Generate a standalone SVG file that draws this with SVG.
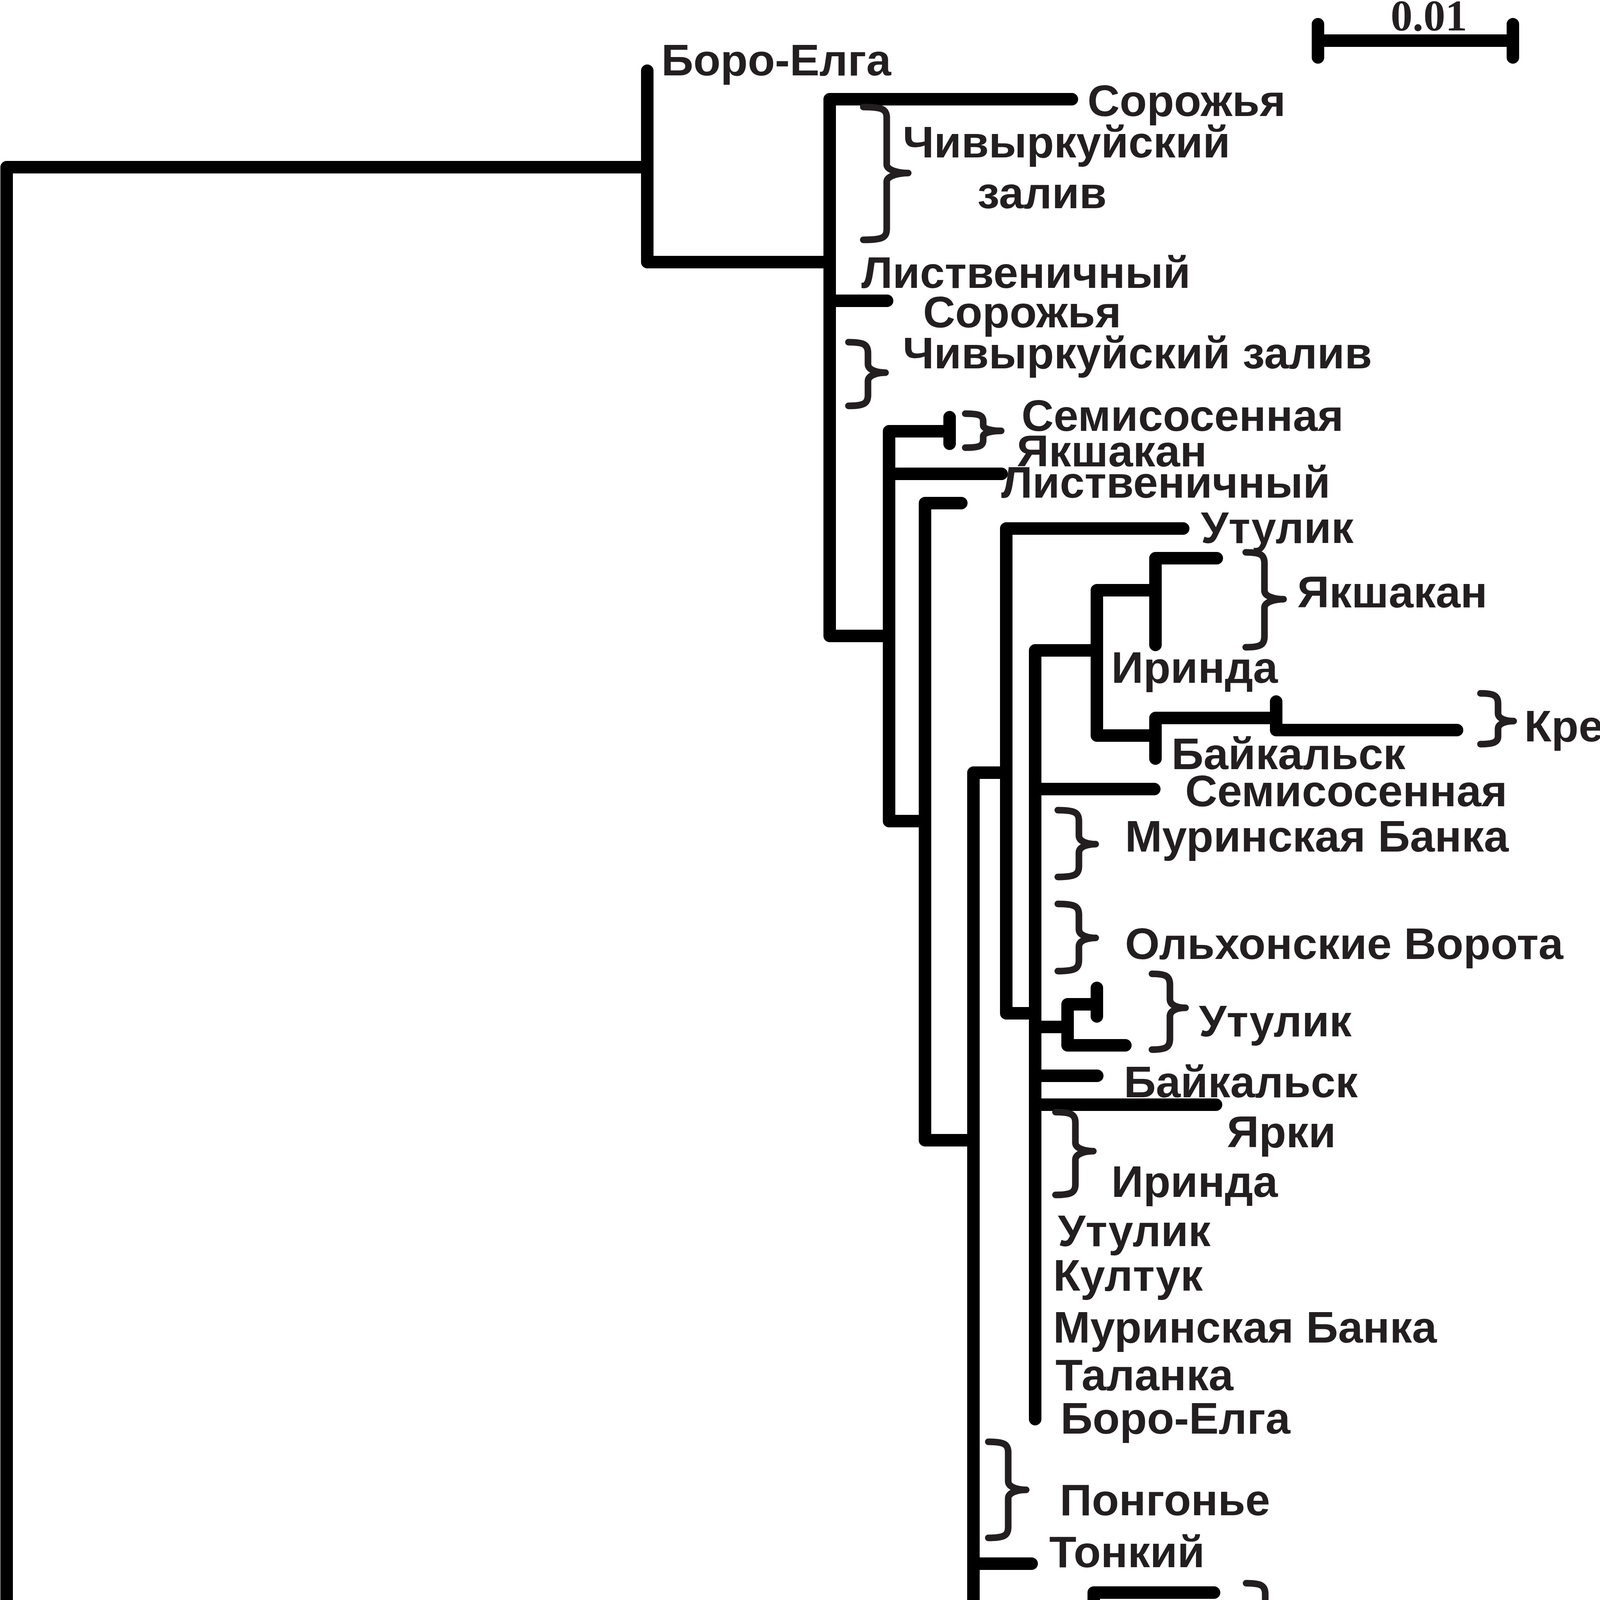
<svg xmlns="http://www.w3.org/2000/svg" width="4452" height="6139" viewBox="0 0 4452 6139">
<style>
.br{fill:none;stroke:#000;stroke-width:32;stroke-linecap:round;stroke-linejoin:round}
.bc{fill:none;stroke:#231f20;stroke-width:17;stroke-linecap:round;stroke-linejoin:round}
.t{font-family:"Liberation Sans",Arial,sans-serif;font-weight:bold;font-size:114px;fill:#231f20}
.g{font-family:"Liberation Sans",Arial,sans-serif;font-weight:bold;font-style:italic;font-size:205px;fill:#231f20;text-anchor:middle}
.s{font-family:"Liberation Serif","Times New Roman",serif;font-weight:bold;font-size:112px;fill:#231f20}
</style>
<rect x="0" y="0" width="4452" height="6139" fill="#fff"/>

<g id="connectors">
<path class="br" d="M1657 428 H17 V6002 H1825"/>
<path class="br" d="M1657 181 V671 H2124"/>
<path class="br" d="M2744 254 H2124 V1628 H2276 M2124 770 H2271"/>
<path class="br" d="M2431 1104 H2276 V2102 H2368 M2276 1213 H2564"/>
<path class="br" d="M2431 1068 V1136"/>
<path class="br" d="M2461 1288 H2368 V2919 H2492"/>
<path class="br" d="M2576 1978 H2492 V5836 M2492 4003 H2641 M2492 4128 H2800 M2492 4661 H2641 M2492 4736 H2641 M2492 4952 H2641 M2492 5470 H2799 M2492 5618 H2799"/>
<path class="br" d="M3029 1353 H2576 V2594 H2650"/>
<path class="br" d="M2808 1665 H2650 V3633 M2650 2020 H2955 M2650 2629 H2733 M2650 2754 H2809 M2650 2828 H3113"/>
<path class="br" d="M2958 1511 H2808 V1883 H2958"/>
<path class="br" d="M3115 1429 H2958 V1651"/>
<path class="br" d="M3267 1838 H2958 V1942"/>
<path class="br" d="M3267 1796 V1869 H3730"/>
<path class="br" d="M2808 2571 H2733 V2676 H2881 M2808 2529 V2602"/>
<path class="br" d="M3108 4077 H2800 V4220 H2949"/>
<path class="br" d="M1825 6052 V5945 H1967"/>
<path class="br" d="M2442 5911 H1967 V5986 H3557"/>
</g>

<g id="scale-bar">
<path class="br" d="M3374 62 V147 M3873 62 V147 M3374 104 H3873"/>
<text class="s" x="3560" y="78">0.01</text>
</g>

<g id="n-boro-elga-1"><text class="t" x="1693" y="193">Боро-Елга</text></g>
<g id="n-sorozhya-1"><text class="t" x="2784" y="297">Сорожья</text></g>
<g id="n-chivyrkuy-1">
<path class="bc" d="M2210 274 C2260 274 2270 280 2270 302 V421 C2270 437 2305 443 2325 443 C2305 443 2270 449 2270 465 V586 C2270 608 2260 614 2210 614"/>
<text class="t" x="2311" y="403">Чивыркуйский</text>
<text class="t" x="2502" y="533">залив</text>
</g>
<g id="n-listvenichny-1"><text class="t" x="2205" y="737">Лиственичный</text></g>
<g id="n-sorozhya-2"><text class="t" x="2363" y="838">Сорожья</text></g>
<g id="n-chivyrkuy-2">
<path class="bc" d="M2172 876 C2212 876 2222 882 2222 904 V932 C2222 948 2247 954 2267 954 C2247 954 2222 960 2222 976 V1011 C2222 1033 2212 1039 2172 1039"/>
<text class="t" x="2311" y="943">Чивыркуйский залив</text>
</g>
<g id="n-semisosennaya-1">
<path class="bc" d="M2471 1059 C2507 1059 2517 1063 2517 1079 V1089 C2517 1099 2543 1103 2563 1103 C2543 1103 2517 1107 2517 1117 V1126 C2517 1142 2507 1146 2471 1146"/>
<text class="t" x="2615" y="1103">Семисосенная</text>
</g>
<g id="n-yakshakan-1"><text class="t" x="2603" y="1194">Якшакан</text></g>
<g id="n-listvenichny-2"><text class="t" x="2563" y="1274">Лиственичный</text></g>
<g id="n-utulik-1"><text class="t" x="3074" y="1390">Утулик</text></g>
<g id="n-yakshakan-2">
<path class="bc" d="M3189 1414 C3227 1414 3237 1420 3237 1442 V1512 C3237 1528 3266 1534 3286 1534 C3266 1534 3237 1540 3237 1556 V1629 C3237 1651 3227 1657 3189 1657"/>
<text class="t" x="3321" y="1555">Якшакан</text>
</g>
<g id="n-irinda-1"><text class="t" x="2845" y="1748">Иринда</text></g>
<g id="n-krest">
<path class="bc" d="M3790 1775 C3825 1775 3835 1781 3835 1801 V1826 C3835 1840 3855 1846 3875 1846 C3855 1846 3835 1852 3835 1866 V1885 C3835 1899 3825 1905 3790 1905"/>
<text class="t" x="3902" y="1898">Крест</text>
</g>
<g id="n-baikalsk-1"><text class="t" x="2999" y="1969">Байкальск</text></g>
<g id="n-semisosennaya-2"><text class="t" x="3034" y="2064">Семисосенная</text></g>
<g id="n-murinskaya-1">
<path class="bc" d="M2708 2074 C2752 2074 2762 2080 2762 2102 V2139 C2762 2155 2785 2161 2805 2161 C2785 2161 2762 2167 2762 2183 V2217 C2762 2239 2752 2245 2708 2245"/>
<text class="t" x="2880" y="2180">Муринская Банка</text>
</g>
<g id="n-olkhon">
<path class="bc" d="M2708 2314 C2752 2314 2762 2320 2762 2342 V2379 C2762 2395 2785 2401 2805 2401 C2785 2401 2762 2407 2762 2423 V2458 C2762 2480 2752 2486 2708 2486"/>
<text class="t" x="2880" y="2455">Ольхонские Ворота</text>
</g>
<g id="n-utulik-2">
<path class="bc" d="M2949 2493 C2985 2493 2995 2499 2995 2521 V2558 C2995 2574 3015 2580 3035 2580 C3015 2580 2995 2586 2995 2602 V2659 C2995 2681 2985 2687 2949 2687"/>
<text class="t" x="3069" y="2653">Утулик</text>
</g>
<g id="n-baikalsk-2"><text class="t" x="2877" y="2809">Байкальск</text></g>
<g id="n-yarki"><text class="t" x="3141" y="2937">Ярки</text></g>
<g id="n-irinda-2">
<path class="bc" d="M2702 2847 C2743 2847 2753 2853 2753 2875 V2925 C2753 2941 2779 2947 2799 2947 C2779 2947 2753 2953 2753 2969 V3031 C2753 3053 2743 3059 2702 3059"/>
<text class="t" x="2845" y="3064">Иринда</text>
</g>
<g id="n-utulik-3"><text class="t" x="2708" y="3190">Утулик</text></g>
<g id="n-kultuk"><text class="t" x="2696" y="3304">Култук</text></g>
<g id="n-murinskaya-2"><text class="t" x="2696" y="3437">Муринская Банка</text></g>
<g id="n-talanka-1"><text class="t" x="2702" y="3559">Таланка</text></g>
<g id="n-boro-elga-2"><text class="t" x="2715" y="3670">Боро-Елга</text></g>
<g id="n-pongonye-1">
<path class="bc" d="M2530 3691 C2571 3691 2581 3697 2581 3719 V3792 C2581 3808 2607 3814 2627 3814 C2607 3814 2581 3820 2581 3836 V3909 C2581 3931 2571 3937 2530 3937"/>
<text class="t" x="2713" y="3879">Понгонье</text>
</g>
<g id="n-tonkiy-1"><text class="t" x="2686" y="4012">Тонкий</text></g>
<g id="n-talanka-2">
<path class="bc" d="M3190 4053 C3229 4053 3239 4059 3239 4081 V4141 C3239 4157 3268 4163 3288 4163 C3268 4163 3239 4169 3239 4185 V4240 C3239 4262 3229 4268 3190 4268"/>
<text class="t" x="3302" y="4222">Таланка</text>
</g>
<g id="n-listvenichny-3">
<path class="bc" d="M2530 4294 C2571 4294 2581 4300 2581 4322 V4377 C2581 4393 2607 4399 2627 4399 C2607 4399 2581 4405 2581 4421 V4481 C2581 4503 2571 4509 2530 4509"/>
<text class="t" x="2659" y="4423">Лиственичный</text>
</g>
<g id="n-pongonye-2"><text class="t" x="2593" y="4598">Понгонье</text></g>
<g id="n-talanka-3"><text class="t" x="2703" y="4701">Таланка</text></g>
<g id="n-tonkiy-2">
<path class="bc" d="M2652 4714 C2690 4714 2700 4720 2700 4742 V4797 C2700 4813 2729 4819 2749 4819 C2729 4819 2700 4825 2700 4841 V4896 C2700 4918 2690 4924 2652 4924"/>
<text class="t" x="2807" y="4853">Тонкий</text>
</g>
<g id="n-pongonye-3"><text class="t" x="2713" y="5020">Понгонье</text></g>
<g id="n-yakshakan-3">
<path class="bc" d="M2530 5013 C2571 5013 2581 5019 2581 5041 V5095 C2581 5111 2607 5117 2627 5117 C2607 5117 2581 5123 2581 5139 V5198 C2581 5220 2571 5226 2530 5226"/>
<text class="t" x="2657" y="5155">Якшакан</text>
</g>
<g id="n-pongonye-4">
<path class="bc" d="M2530 5254 C2571 5254 2581 5260 2581 5282 V5313 C2581 5329 2607 5335 2627 5335 C2607 5335 2581 5341 2581 5357 V5392 C2581 5414 2571 5420 2530 5420"/>
<text class="t" x="2652" y="5379">Понгонье</text>
</g>
<g id="n-tonkiy-3"><text class="t" x="2567" y="5573">Тонкий</text></g>
<g id="n-listvenichny-4"><text class="t" x="2839" y="5504">Лиственичный</text></g>
<g id="n-listvenichny-5"><text class="t" x="2839" y="5685">Лиственичный</text></g>
<g id="n-pongonye-5"><text class="t" x="2533" y="5799">Понгонье</text></g>
<g id="n-irinda-3"><text class="t" x="2548" y="5888">Иринда</text></g>
<g id="n-outgroup">
<path class="bc" d="M3611 5870 C3649 5870 3659 5876 3659 5898 V5972 C3659 5988 3688 5994 3708 5994 C3688 5994 3659 6000 3659 6016 V6091 C3659 6113 3649 6119 3611 6119"/>
<text class="t" x="3757" y="6016" style="font-size:138px" textLength="593" lengthAdjust="spacingAndGlyphs">B. Carinato-</text>
<text class="t" x="3903" y="6128" style="font-size:138px" textLength="394" lengthAdjust="spacingAndGlyphs">costata</text>
</g>

<g id="species-title">
<text class="g" x="4385" y="688">B</text>
<text class="g" x="4385" y="925">a</text>
<text class="g" x="4385" y="1160">i</text>
<text class="g" x="4385" y="1403">c</text>
<text class="g" x="4385" y="1635">a</text>
<text class="g" x="4385" y="1876">l</text>
<text class="g" x="4385" y="2117">i</text>
<text class="g" x="4385" y="2351">a</text>
<text class="g" x="4385" y="2834">c</text>
<text class="g" x="4385" y="3065">a</text>
<text class="g" x="4385" y="3307">r</text>
<text class="g" x="4385" y="3548">i</text>
<text class="g" x="4385" y="3782">n</text>
<text class="g" x="4385" y="4023">a</text>
<text class="g" x="4385" y="4260">t</text>
<text class="g" x="4385" y="4498">a</text>
</g>
</svg>
